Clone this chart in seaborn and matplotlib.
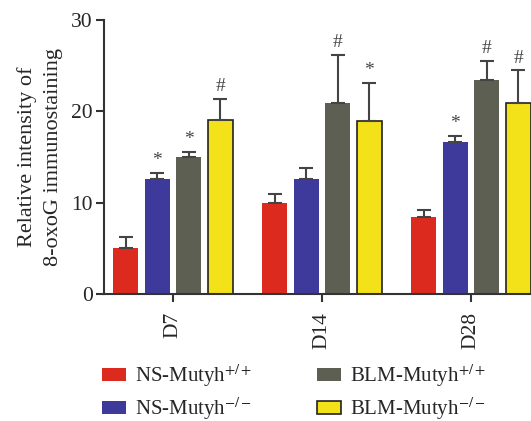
import numpy as np
import pandas as pd
import matplotlib
matplotlib.use("Agg")
import matplotlib.pyplot as plt
import seaborn as sns
from matplotlib.patches import Patch

days = ["D7", "D14", "D28"]
groups = ["NS-Mutyh$^{+/+}$", "NS-Mutyh$^{-/-}$", "BLM-Mutyh$^{+/+}$", "BLM-Mutyh$^{-/-}$"]
ns_wt = [5.0, 10.0, 8.4]
ns_ko = [12.6, 12.6, 16.6]
blm_wt = [15.0, 20.9, 23.4]
blm_ko = [19.0, 18.9, 20.9]
ns_wt_err = [1.2, 1.0, 0.8]
ns_ko_err = [0.7, 1.2, 0.7]
blm_wt_err = [0.6, 5.3, 2.1]
blm_ko_err = [2.4, 4.2, 3.6]
marks_ns_wt = ["", "", ""]
marks_ns_ko = ["*", "", "*"]
marks_blm_wt = ["*", "#", "#"]
marks_blm_ko = ["#", "*", "#"]
colors = ["#DC2B1E", "#3E3A9C", "#5C5F52", "#F3E11A"]

values = [ns_wt, ns_ko, blm_wt, blm_ko]
errs = [ns_wt_err, ns_ko_err, blm_wt_err, blm_ko_err]
marks = [marks_ns_wt, marks_ns_ko, marks_blm_wt, marks_blm_ko]

rows = []
for g, vals in zip(groups, values):
    for d, v in zip(days, vals):
        rows.append({"day": d, "group": g, "value": v})
df = pd.DataFrame(rows)

sns.set_style("ticks")
plt.rcParams["font.family"] = ["Liberation Serif", "DejaVu Serif"]
plt.rcParams["mathtext.fontset"] = "stix"

fig = plt.figure(figsize=(5.31, 4.21), dpi=100)
ax = fig.add_axes([104/531, 1-294/421, 1-104/531, (294-20)/421])

sns.barplot(data=df, x="day", y="value", hue="group", order=days, hue_order=groups,
            palette=colors, errorbar=None, width=0.845, gap=0.2, ax=ax,
            legend=False, saturation=1, linewidth=0)

bar_containers = list(ax.containers)
ecol = "#444444"
for ci, cont in enumerate(bar_containers):
    for bi, bar in enumerate(cont.patches):
        xc = bar.get_x() + bar.get_width() / 2
        h = bar.get_height()
        if ci == 3:
            bar.set_edgecolor("#222222")
            bar.set_linewidth(1.2)
        e = errs[ci][bi]
        ax.errorbar([xc], [h], yerr=[[0], [e]], fmt="none", ecolor=ecol,
                    elinewidth=1.5, capsize=5, capthick=1.5, zorder=1)
        m = marks[ci][bi]
        if m:
            ax.text(xc, h + e + 0.4, m, ha="center", va="bottom",
                    fontsize=14, color="#444444")

ax.set_xlim(-0.463, 2.403)
ax.set_ylim(0, 30)
ax.set_yticks([0, 10, 20, 30])
ax.set_xlabel("")
ax.set_ylabel("Relative intensity of\n8-oxoG immunostaining", fontsize=16,
              labelpad=6, linespacing=1.5)
ax.tick_params(axis="y", labelsize=15.5, length=6, width=1.5, color="#333333", pad=2)
ax.tick_params(axis="x", labelsize=15.5, length=6, width=1.5, color="#333333",
               rotation=90, pad=7)
sns.despine(ax=ax)
for s in ["left", "bottom"]:
    ax.spines[s].set_linewidth(1.5)
    ax.spines[s].set_color("#333333")

handles = [Patch(facecolor=colors[0], edgecolor="none"),
           Patch(facecolor=colors[1], edgecolor="none"),
           Patch(facecolor=colors[2], edgecolor="none"),
           Patch(facecolor=colors[3], edgecolor="#222222", linewidth=1.2)]
fig.legend(handles, groups, loc="upper left", bbox_to_anchor=(102/531, 1-362/421),
           ncol=2, frameon=False, fontsize=15, handlelength=1.15, handleheight=0.55,
           handletextpad=0.45, columnspacing=3.1, labelspacing=0.3, borderaxespad=0,
           borderpad=0)

fig.savefig("out.png", dpi=100)
